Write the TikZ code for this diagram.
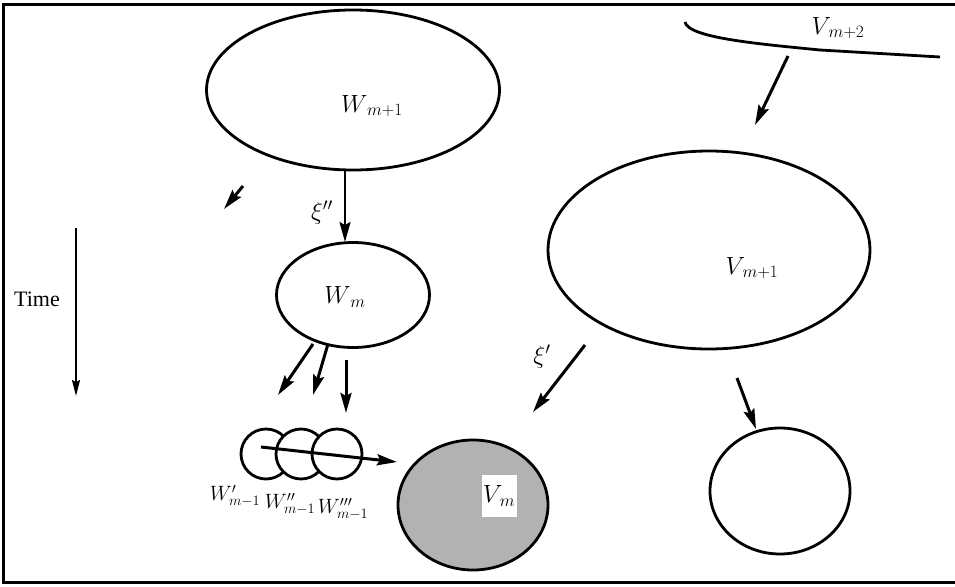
\documentclass[tikz,border=0pt]{standalone}
\usepackage{fontspec}
\setmainfont{Liberation Serif}
\usepackage{amsmath,amssymb}
\newcommand{\lbl}[2]{\ensuremath{#1_{\,#2}}}
\usetikzlibrary{arrows.meta,shapes.geometric}

\begin{document}
\begin{tikzpicture}[x=1pt,y=-1pt
  ,>={Stealth[length=20pt,width=11pt,inset=3pt]}
  ,line width=2pt]
  \tikzstyle{blob}=[draw,ellipse,inner sep=0pt,line width=2.8pt]
  \tikzstyle{flow}=[->,line width=3pt]
  \tikzstyle{txt}=[inner sep=0pt,font=\fontsize{23}{25}\selectfont]
  \tikzstyle{small}=[inner sep=0pt,font=\fontsize{21}{23}\selectfont]

  \useasboundingbox (0,0) rectangle (955,586);
  % frame
  \draw[line width=3pt] (955,5) -- (3,5) -- (3,582) -- (955,582);

  % ellipses
  \node[blob,minimum width=293,minimum height=160] (Wp) at (353,90) {};
  \node[blob,minimum width=153,minimum height=105] (W)  at (353,295) {};
  \node[blob,minimum width=322,minimum height=198] (Vp) at (709,250) {};
  \node[blob,minimum width=150,minimum height=130,fill=black!30] (V) at (473,505) {};
  \node[blob,minimum width=140,minimum height=126] (Vn) at (780,491) {};
  \foreach \i/\x in {1/266,2/301,3/337}
    \node[draw,circle,fill=white,minimum size=50,inner sep=0pt,line width=2.8pt] (c\i) at (\x,454) {};

  % labels
  \node[txt] (lWp) at (372,106) {$\lbl{W}{m+1}$};
  \node[txt] (lW)  at (345,297) {$\lbl{W}{m}$};
  \node[txt] (lVp) at (752,268) {$\lbl{V}{m+1}$};
  \node[txt] (lVpp) at (838,28) {$\lbl{V}{m+2}$};
  \node[txt,fill=white,minimum width=35,minimum height=42] (lV) at (499,496) {$\lbl{V}{m}$};
  \node[small] (l1) at (235,496) {$W'_{m-1}$};
  \node[small] (l2) at (290,504) {$W''_{m-1}$};
  \node[small] (l3) at (343,509) {$W'''_{m-1}$};
  \node[txt] (xi2) at (322,213) {$\xi''$};
  \node[txt] (xi1) at (542,357) {$\xi'$};
  \node[inner sep=0pt,font=\fontsize{22}{24}\selectfont] (time) at (37,299) {Time};

  % top right boundary
  \coordinate (s1) at (685,22);
  \coordinate (s2) at (940,57);
  \draw[line width=2.8pt] (s1) .. controls (688,38) and (760,44) .. (820,50) -- (s2);

  % arrow ends
  \coordinate (a1) at (345,170);  \coordinate (b1) at (345,242);
  \coordinate (a2) at (243,186);  \coordinate (b2) at (224,209);
  \coordinate (a3) at (313,344);  \coordinate (b3) at (278,395);
  \coordinate (a4) at (328,344);  \coordinate (b4) at (313,395);
  \coordinate (a5) at (346,360);  \coordinate (b5) at (346,413);
  \coordinate (a6) at (261,447);  \coordinate (b6) at (397,462);
  \coordinate (a7) at (585,345);  \coordinate (b7) at (533,412);
  \coordinate (a8) at (737,378);  \coordinate (b8) at (756,429);
  \coordinate (a9) at (788,56);   \coordinate (b9) at (755,125);
  \coordinate (t1) at (76,228);   \coordinate (t2) at (76,396);

  \path[flow]
  (a2) edge (b2)
  (a3) edge (b3)
  (a4) edge (b4)
  (a5) edge (b5)
  (a6) edge (b6)
  (a7) edge (b7)
  (a8) edge (b8)
  (a9) edge (b9)
  ;
  \draw[->,line width=2.2pt] (a1) -- (b1);
  \draw[->,line width=2pt,>={Stealth[length=16pt,width=8pt,inset=2pt]}] (t1) -- (t2);

\end{tikzpicture}
\end{document}
